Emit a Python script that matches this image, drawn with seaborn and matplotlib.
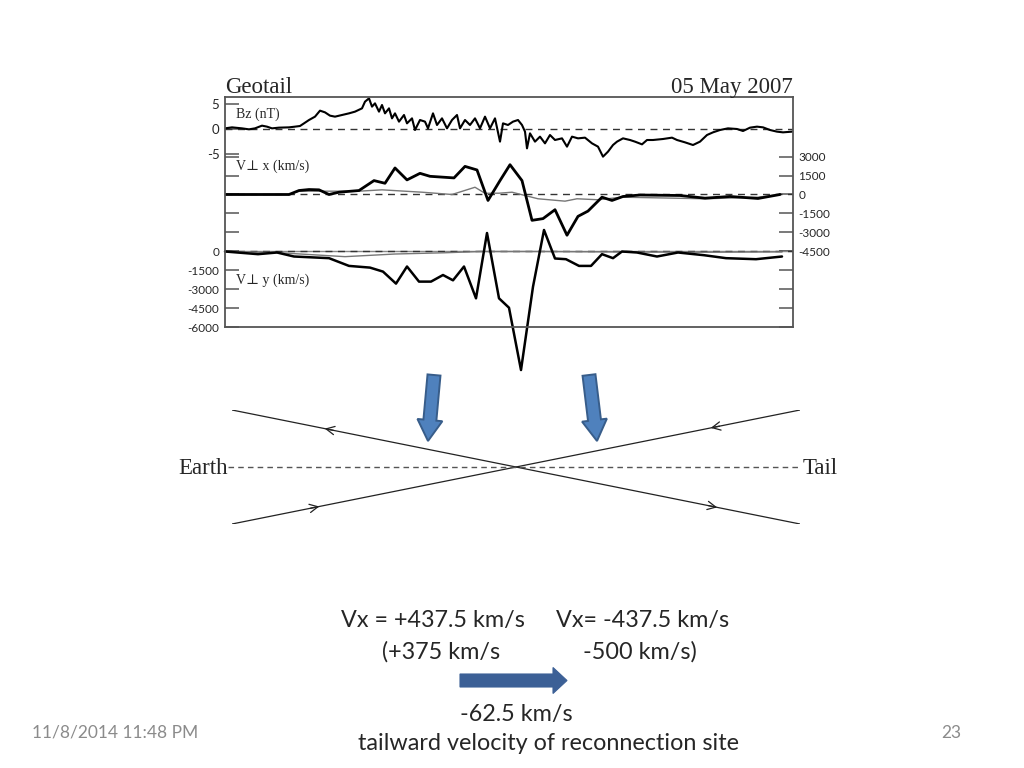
import matplotlib
matplotlib.use("Agg")
import matplotlib.pyplot as plt
import seaborn as sns
import pandas as pd
from matplotlib.patches import FancyArrow

# ---------------- data (time in minutes from panel start) ----------------
bz_t = [0, 7, 17, 24, 30, 37, 42, 47, 54, 64, 70, 75, 79, 84, 90, 95, 100, 105, 110, 117,
        124, 130, 137, 140, 144, 147, 150, 154, 157, 160, 164, 167, 170, 174, 179, 182, 187, 190, 195,
        200, 203, 208, 212, 217, 222, 227, 232, 235, 240, 245, 250, 255, 260, 265, 270,
        275, 278, 283, 288, 293, 297, 300, 302, 305, 310, 315, 320, 325, 330, 337, 342,
        347, 353, 360, 367, 373, 378, 383, 388, 392, 398, 405, 410, 417, 422, 428, 438,
        447, 452, 460, 468, 475, 482, 488, 495, 503, 512, 518, 525, 532, 538, 545, 552, 558, 567]
bz = [0.13, 0.33, 0.13, -0.07, 0.13, 0.67, 0.47, 0.13, 0.27, 0.33, 0.47, 0.6, 1.13, 1.8, 2.47, 3.67, 3.33, 2.67, 2.47, 2.8,
      3.13, 3.47, 4.13, 5.47, 6.13, 4.47, 5.13, 3.47, 4.8, 3.13, 4.13, 2.13, 3.13, 1.47, 2.8, 1.13, 2.13, -0.2, 1.8,
      1.47, 0.13, 3.13, 0.8, 2.13, 0.13, 1.8, 2.8, 0.13, 1.8, 0.8, 2.13, 0.13, 2.47, 0.13, 2.13,
      -2.53, 1.13, 0.8, 1.47, 1.8, 0.8, -0.53, -3.87, -0.87, -2.53, -1.53, -2.87, -1.2, -2.2, -1.87, -3.53,
      -1.53, -1.87, -1.73, -2.87, -3.53, -5.53, -4.53, -3.2, -2.53, -1.87, -2.2, -2.53, -3.07, -2.2, -2.2, -2.0,
      -1.73, -2.2, -2.67, -3.2, -2.53, -1.2, -0.67, -0.2, 0.13, 0.0, -0.4, 0.27, 0.47, 0.33, -0.2, -0.53, -0.67, -0.53]

vx_t = [0, 64, 74, 84, 94, 104, 114, 134, 149, 160, 170, 182, 195, 205, 229, 240, 252, 263, 275, 285,
        297, 307, 318, 330, 342, 353, 363, 377, 387, 398, 415, 455, 480, 505, 533, 555]
vx = [0, 0, 316, 395, 371, 0, 182, 316, 1105, 892, 2108, 1160, 1682, 1445, 1318, 2234, 1950, -474, 1105, 2368,
      1105, -2053, -1918, -1208, -3237, -1737, -1318, -213, -474, -158, -40, -79, -292, -158, -316, 0]

vx2_t = [0, 64, 74, 94, 134, 157, 197, 227, 250, 260, 274, 287, 313, 340, 352, 373, 397, 480, 533, 555]
vx2 = [0, 0, 263, 263, 263, 371, 182, 0, 576, 95, 103, 182, -340, -529, -340, -418, -213, -340, -213, 0]

vy_t = [0, 33, 52, 69, 104, 124, 145, 158, 171, 182, 194, 206, 218, 228, 239, 251, 262, 274, 284, 296,
        308, 319, 330, 341, 354, 366, 377, 388, 397, 412, 432, 453, 479, 501, 531, 557]
vy = [0, -212, -80, -398, -530, -1145, -1280, -1598, -2552, -1193, -2393, -2393, -1868, -2290, -1193, -3721, 1470, -3721, -4468, -9420,
      -2800, 1709, -556, -612, -1145, -1145, -212, -530, 0, -80, -398, -80, -294, -530, -612, -398]

vy2_t = [0, 50, 120, 170, 220, 255, 320, 400, 480, 557]
vy2 = [0, -80, -410, -200, -100, 0, 0, -40, -60, -30]

bz_ticks = [5, 0, -5]
vx_ticks = [3000, 1500, 0, -1500, -3000, -4500]
vy_ticks = [0, -1500, -3000, -4500, -6000]

# schematic X-line field lines (diagram units)
fl_x = [-1, 1]
fl1_y = [1, -1]
fl2_y = [-1, 1]

# ---------------- figure ----------------
sns.set_style("white")
plt.rcParams['font.family'] = ['Lato', 'DejaVu Sans']
plt.rcParams['axes.unicode_minus'] = False
SERIF = ['Liberation Serif', 'DejaVu Serif']

W, H = 1024, 768
fig = plt.figure(figsize=(10.24, 7.68), dpi=100)
fig.patch.set_facecolor('white')

def fx(x):
    return x / W

def fy(y):
    return 1 - y / H

L, R, T, B = 225, 793, 97, 327
rect = [fx(L), fy(B), (R - L) / W, (B - T) / H]
ax_bz = fig.add_axes(rect)
ax_vx = fig.add_axes(rect)
ax_vy = fig.add_axes(rect)
for a in (ax_bz, ax_vx, ax_vy):
    a.set_facecolor('none')
    a.set_xlim(0, 568)
    a.set_xticks([])
    for s in a.spines.values():
        s.set_visible(False)

ax_bz.set_ylim(-39.6, 6.4)
ax_vx.set_ylim(-10530, 7748)
ax_vy.set_ylim(-6000, 12278)

for s in ax_vy.spines.values():
    s.set_visible(True)
    s.set_color('#555555')
    s.set_linewidth(1.3)

tick_kw = dict(axis='y', direction='in', length=10, width=1.1, color='#555555', labelsize=8.5, pad=4)
ax_bz.set_yticks(bz_ticks)
ax_bz.tick_params(left=True, right=False, labelleft=True, labelright=False, **tick_kw)
ax_bz.tick_params(axis='y', labelsize=9.5)
ax_vx.set_yticks(vx_ticks)
ax_vx.tick_params(left=True, right=True, labelleft=False, labelright=True, **tick_kw)
ax_vy.set_yticks(vy_ticks)
ax_vy.tick_params(left=True, right=True, labelleft=True, labelright=False, **tick_kw)

dash = (0, (5, 4))
ax_bz.axhline(0, ls=dash, color='#333333', lw=1)
ax_vx.axhline(0, ls=dash, color='#333333', lw=1)
ax_vy.axhline(0, color='#888888', lw=1)
ax_vy.axhline(0, ls=dash, color='#333333', lw=1)

sns.lineplot(data=pd.DataFrame({'t': bz_t, 'v': bz}), x='t', y='v', ax=ax_bz,
             color='black', lw=1.5, estimator=None, sort=False)
sns.lineplot(data=pd.DataFrame({'t': vx2_t, 'v': vx2}), x='t', y='v', ax=ax_vx,
             color='#777777', lw=1.0, estimator=None, sort=False)
sns.lineplot(data=pd.DataFrame({'t': vx_t, 'v': vx}), x='t', y='v', ax=ax_vx,
             color='black', lw=2.0, estimator=None, sort=False)
sns.lineplot(data=pd.DataFrame({'t': vy2_t, 'v': vy2}), x='t', y='v', ax=ax_vy,
             color='#777777', lw=1.0, estimator=None, sort=False)
sns.lineplot(data=pd.DataFrame({'t': vy_t, 'v': vy}), x='t', y='v', ax=ax_vy,
             color='black', lw=1.8, estimator=None, sort=False)
ax_vy.lines[-1].set_clip_on(False)
for a in (ax_bz, ax_vx, ax_vy):
    a.set_xlabel('')
    a.set_ylabel('')

fig.text(fx(225), fy(93), 'Geotail', family=SERIF, fontsize=16.5, ha='left', va='baseline')
fig.text(fx(793), fy(93), '05 May 2007', family=SERIF, fontsize=16.5, ha='right', va='baseline')
fig.text(fx(236), fy(114), 'Bz (nT)', family=SERIF, fontsize=10, ha='left', va='center')
fig.text(fx(236), fy(166), 'V\u22a5 x (km/s)', family=SERIF, fontsize=10, ha='left', va='center')
fig.text(fx(236), fy(280), 'V\u22a5 y (km/s)', family=SERIF, fontsize=10, ha='left', va='center')

# ---------------- reconnection schematic ----------------
ax_d = fig.add_axes([fx(232), fy(524), 568 / W, 114 / H])
ax_d.set_xlim(-1, 1)
ax_d.set_ylim(-1, 1)
ax_d.axis('off')
ax_d.plot(fl_x, fl1_y, color='#222222', lw=0.9)
ax_d.plot(fl_x, fl2_y, color='#222222', lw=0.9)
ax_d.plot([-1.014, 1.0], [0, 0], ls=(0, (4, 3)), color='#555555', lw=1, clip_on=False)
chev = [(-0.683, 0.683, -1, 1), (-0.683, -0.683, 1, 1), (0.676, 0.676, -1, -1), (0.718, -0.718, 1, -1)]
for x0, y0, dx, dy in chev:
    ax_d.annotate('', xy=(x0, y0), xytext=(x0 - 0.05 * dx, y0 - 0.05 * dy),
                  arrowprops=dict(arrowstyle='->,head_length=0.6,head_width=0.3', lw=0.9, color='#222222'))
fig.text(fx(228), fy(469), 'Earth', family=SERIF, fontsize=16.5, ha='right', va='center')
fig.text(fx(803), fy(469), 'Tail', family=SERIF, fontsize=16.5, ha='left', va='center')

# overlay for block arrows
ax_o = fig.add_axes([0, 0, 1, 1])
ax_o.set_xlim(0, W)
ax_o.set_ylim(H, 0)
ax_o.axis('off')
ax_o.set_zorder(5)
for (x0, y0, dx, dy) in [(434, 375, -6, 66), (589, 375, 8, 66)]:
    ax_o.add_patch(FancyArrow(x0, y0, dx, dy, width=13, head_width=25, head_length=21,
                              length_includes_head=True, fc='#4F81BD', ec='#385D8A', lw=1.4))
ax_o.add_patch(FancyArrow(460, 680.5, 107, 0, width=13, head_width=26, head_length=14,
                          length_includes_head=True, fc='#3C6096', ec='#3C6096', lw=0.8))

# ---------------- slide text ----------------
ts = 16.8
fig.text(fx(433), fy(621), 'Vx = +437.5 km/s', fontsize=ts, ha='center', va='center')
fig.text(fx(643), fy(621), 'Vx= -437.5 km/s', fontsize=ts, ha='center', va='center')
fig.text(fx(441), fy(652), '(+375 km/s', fontsize=ts, ha='center', va='center')
fig.text(fx(640), fy(652), '-500 km/s)', fontsize=ts, ha='center', va='center')
fig.text(fx(516), fy(714), '-62.5 km/s', fontsize=ts, ha='center', va='center')
fig.text(fx(548), fy(744), 'tailward velocity of reconnection site', fontsize=ts, ha='center', va='center')
fig.text(fx(32), fy(733), '11/8/2014 11:48 PM', fontsize=12.5, color='#8B8B8B', ha='left', va='center')
fig.text(fx(961), fy(733), '23', fontsize=12.5, color='#8B8B8B', ha='right', va='center')

fig.savefig('out.png', dpi=100, facecolor='white')
